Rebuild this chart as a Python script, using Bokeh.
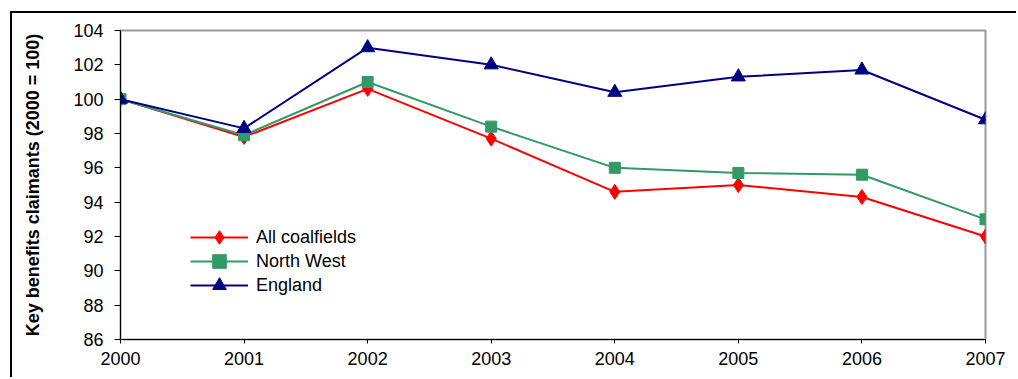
from bokeh.plotting import figure
from bokeh.models import Range1d, FixedTicker, Legend, LegendItem
from bokeh.embed import file_html
from bokeh.resources import INLINE

# Index of key benefits claimants, 2000 = 100
years = [2000, 2001, 2002, 2003, 2004, 2005, 2006, 2007]
all_coalfields = [100.0, 97.8, 100.6, 97.7, 94.6, 95.0, 94.3, 92.0]
north_west = [100.0, 97.9, 101.0, 98.4, 96.0, 95.7, 95.6, 93.0]
england = [100.0, 98.3, 103.0, 102.0, 100.4, 101.3, 101.7, 98.8]
series_names = ["All coalfields", "North West", "England"]
y_ticks = [86, 88, 90, 92, 94, 96, 98, 100, 102, 104]

FONT = "Liberation Sans"

# the figure sits inside a black chart-area border on its left and top
OFF_X, OFF_Y = 12, 13

p = figure(
    width=1018 - OFF_X, height=379 - OFF_Y,
    output_backend="svg", toolbar_location=None,
    x_range=Range1d(2000, 2007), y_range=Range1d(86, 104),
    min_border_left=120 - OFF_X, min_border_right=33,
    min_border_top=30 - OFF_Y, min_border_bottom=40,
    styles={
        "margin-left": "10px", "margin-top": "11px",
        "border-left": "2px solid black", "border-top": "2px solid black",
    },
)
p.background_fill_color = "white"
p.border_fill_color = "white"
p.outline_line_color = "#999999"
p.outline_line_width = 2
p.grid.visible = False

# axes
xa = p.xaxis[0]
xa.ticker = FixedTicker(ticks=years)
xa.axis_line_color = "black"
xa.axis_line_width = 1
xa.major_tick_line_color = "black"
xa.major_tick_out = 4
xa.major_tick_in = 0
xa.minor_tick_line_color = None
xa.major_label_text_font = FONT
xa.major_label_text_font_size = "18px"
xa.major_label_text_color = "black"
xa.major_label_standoff = 8

ya = p.yaxis[0]
ya.ticker = FixedTicker(ticks=y_ticks)
ya.axis_line_color = "black"
ya.axis_line_width = 1
ya.major_tick_line_color = "black"
ya.major_tick_out = 6
ya.major_tick_in = 0
ya.minor_tick_line_color = None
ya.major_label_text_font = FONT
ya.major_label_text_font_size = "18px"
ya.major_label_text_color = "black"
ya.major_label_standoff = 11
ya.axis_label = "Key benefits claimants (2000 = 100)"
ya.axis_label_text_font = FONT
ya.axis_label_text_font_style = "bold"
ya.axis_label_text_font_size = "18px"
ya.axis_label_text_color = "black"
ya.axis_label_standoff = 27

# series
red = "#FF0000"
green = "#339966"
navy = "#000080"

l1 = p.line(years, all_coalfields, line_color=red, line_width=2)
m1 = p.scatter(years, all_coalfields, marker="diamond", size=15,
               fill_color=red, line_color=red)
l2 = p.line(years, north_west, line_color=green, line_width=2)
m2 = p.scatter(years, north_west, marker="square", size=11,
               fill_color=green, line_color=green)
l3 = p.line(years, england, line_color=navy, line_width=2)
m3 = p.scatter(years, england, marker="triangle", size=14,
               fill_color=navy, line_color=navy)

# one legend entry per row, stacked 24px apart inside the plot area
renderer_pairs = [[l1, m1], [l2, m2], [l3, m3]]
row_offsets = [85, 61, 37]
for name, rends, dy in zip(series_names, renderer_pairs, row_offsets):
    lg = Legend(
        items=[LegendItem(label=name, renderers=rends)],
        location=(70, dy),
        background_fill_alpha=0,
        border_line_color=None,
        padding=0, margin=0, spacing=0,
        glyph_width=58, glyph_height=34, label_height=34,
        label_standoff=8,
        label_text_font=FONT, label_text_font_size="18px",
        label_text_color="black",
    )
    p.add_layout(lg)

open("out.html", "w").write(file_html(p, INLINE))
